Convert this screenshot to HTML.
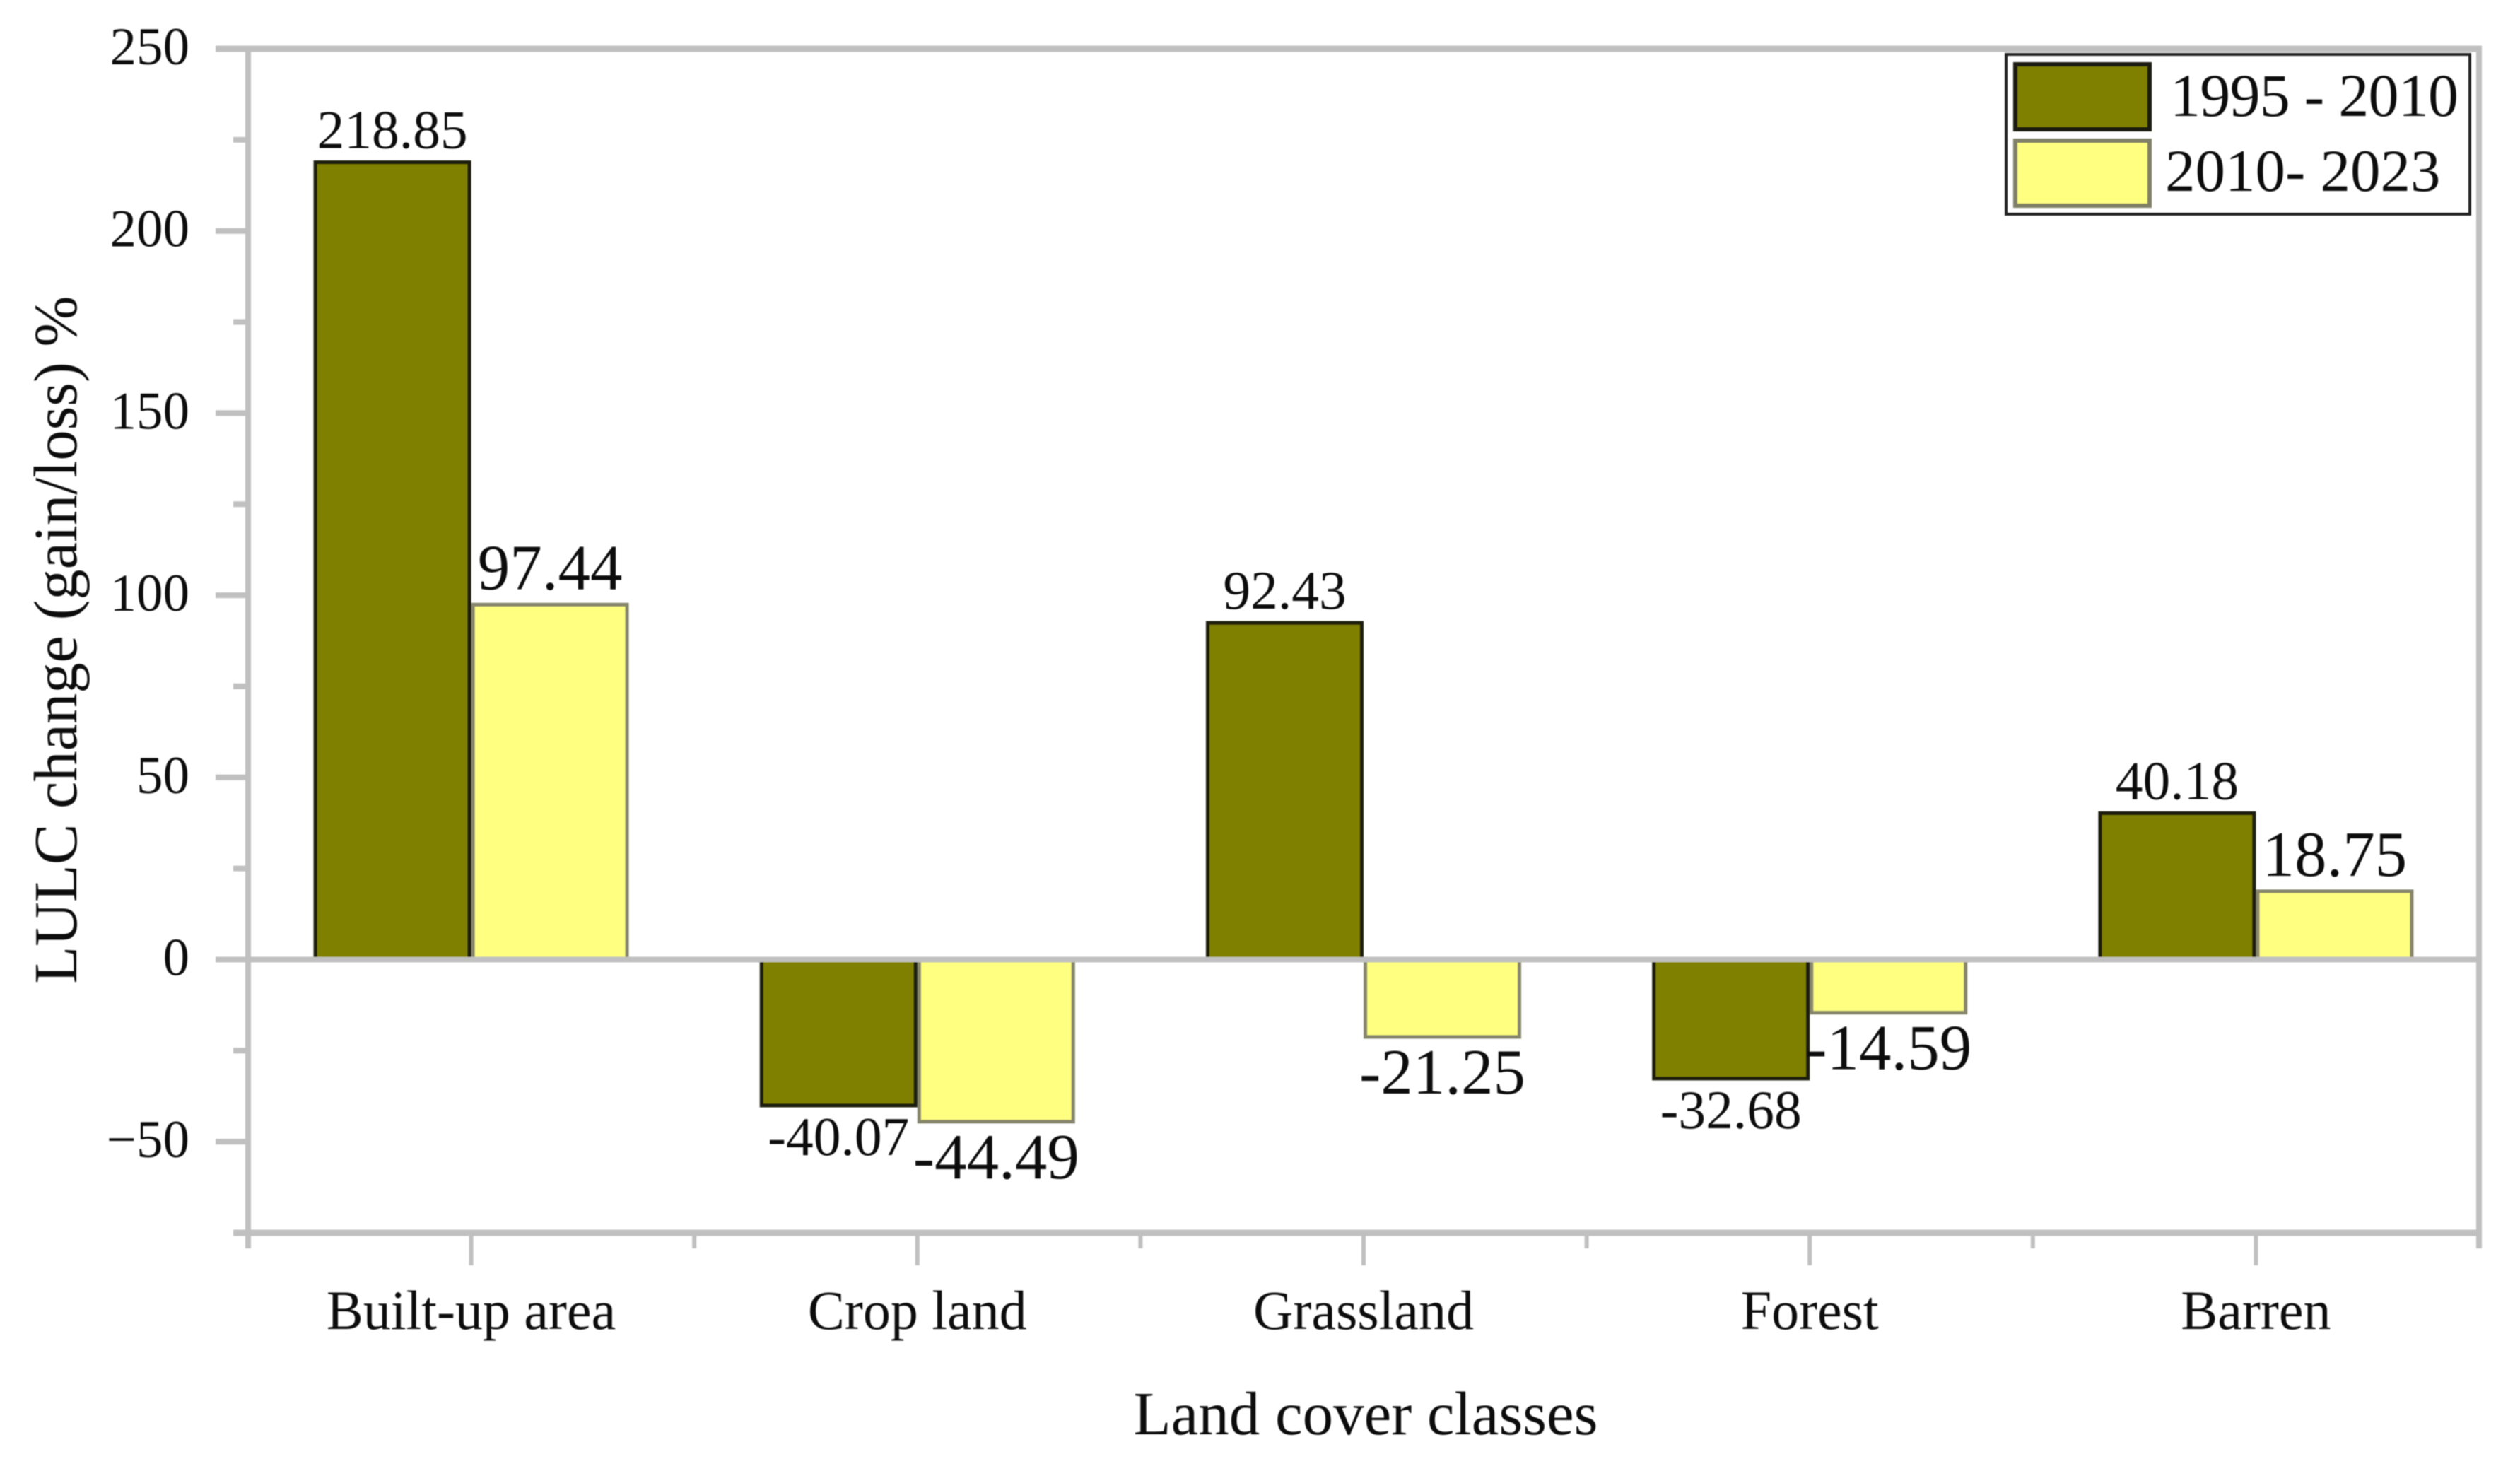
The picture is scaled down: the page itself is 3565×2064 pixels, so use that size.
<!DOCTYPE html>
<html>
<head>
<meta charset="utf-8">
<title>LULC change chart</title>
<style>
html,body{margin:0;padding:0;background:#fff;}
svg{display:block;filter:blur(0.7px);}
text{font-family:"Liberation Serif",serif;fill:#0c0c0c;}
</style>
</head>
<body>
<svg id="chart" xmlns="http://www.w3.org/2000/svg" width="3565" height="2064" viewBox="0 0 3565 2064">
  <rect x="0" y="0" width="3565" height="2064" fill="#ffffff"/>
  <g id="bars"></g>
  <g id="axes"></g>
  <g id="labels"></g>
  <text x="0" y="0" transform="translate(108,905) rotate(-90)" text-anchor="middle" font-size="86.5">LULC change (gain/loss) %</text>
  <text x="1932" y="2029" text-anchor="middle" font-size="87">Land cover classes</text>
  <g>
    <rect x="2838" y="77" width="656" height="226" fill="#ffffff" stroke="#222222" stroke-width="4"/>
    <rect x="2851" y="91" width="190" height="92" fill="#808000" stroke="#1a1a10" stroke-width="6"/>
    <text x="3070" y="164" font-size="86" textLength="408" lengthAdjust="spacing">1995 - 2010</text>
    <rect x="2851" y="199" width="190" height="92" fill="#ffff80" stroke="#808068" stroke-width="6"/>
    <text x="3063" y="270" font-size="85">2010- 2023</text>
  </g>
</svg>
<script>
const categories = ["Built-up area", "Crop land", "Grassland", "Forest", "Barren"];
const series1995 = [218.85, -40.07, 92.43, -32.68, 40.18];
const series2010 = [97.44, -44.49, -21.25, -14.59, 18.75];
const majorTicks = [250, 200, 150, 100, 50, 0, -50];
const minorTicks = [225, 175, 125, 75, 25, -25, -75];
const domainMin = -75;
const domainMax = 250;

const NS = "http://www.w3.org/2000/svg";
const plotLeft = 351, plotRight = 3507, plotTop = 69, plotBottom = 1744;
const barWidth = 223;
const AXIS = "#c0c0c0";

function yScale(v) {
  return plotTop + (domainMax - v) / (domainMax - domainMin) * (plotBottom - plotTop);
}
function bandCenter(i) {
  return plotLeft + (i + 0.5) * (plotRight - plotLeft) / categories.length;
}
function bandEdge(i) {
  return plotLeft + i * (plotRight - plotLeft) / categories.length;
}
function make(tag, attrs, parent, text) {
  const el = document.createElementNS(NS, tag);
  for (const k in attrs) el.setAttribute(k, attrs[k]);
  if (text !== undefined) el.textContent = text;
  parent.appendChild(el);
  return el;
}
function slug(s) {
  return String(s).toLowerCase().replace(/[^a-z0-9]+/g, "-");
}
function tickText(v) {
  return v < 0 ? "\u2212" + Math.abs(v) : String(v);
}

const barsG = document.getElementById("bars");
const axesG = document.getElementById("axes");
const labelsG = document.getElementById("labels");

function drawBar(value, x, fill, stroke, name) {
  const y0 = yScale(0), yv = yScale(value);
  const el = make("rect", {
    x: x + 2.5, y: Math.min(y0, yv), width: barWidth - 5,
    height: Math.abs(yv - y0), fill: fill, stroke: stroke, "stroke-width": 5
  }, barsG);
  
  
}
function drawLabel(value, cx, fontSize, name) {
  const yv = yScale(value);
  const big = fontSize > 80;
  const base = value >= 0 ? yv - (big ? 22 : 20) : yv + (big ? 80 : 70);
  const el = make("text", {
    x: cx, y: base, "text-anchor": "middle", "font-size": fontSize
  }, labelsG, value.toFixed(2));
  
  
}

categories.forEach(function (cat, i) {
  const c = bandCenter(i);
  drawBar(series1995[i], c - barWidth, "#808000", "#1c1c0c", "bar-1995-2010-" + slug(cat));
  drawBar(series2010[i], c, "#ffff80", "#86866c", "bar-2010-2023-" + slug(cat));
  drawLabel(series1995[i], c - barWidth / 2, 77.5, "value-label-1995-2010-" + slug(cat));
  drawLabel(series2010[i], c + barWidth / 2, 91, "value-label-2010-2023-" + slug(cat));
});

function axisLine(x1, y1, x2, y2, w, name) {
  const el = make("line", { x1: x1, y1: y1, x2: x2, y2: y2, stroke: AXIS, "stroke-width": w }, axesG);
  
  
}

axisLine(plotLeft, plotTop - 4, plotLeft, 1766, 8, "y-axis-line");
axisLine(plotRight, plotTop - 4, plotRight, 1766, 8, "right-axis-line");
axisLine(305, plotTop, plotRight + 4, plotTop, 9, "top-axis-line");
axisLine(330, plotBottom, plotRight + 4, plotBottom, 9, "x-axis-line");
axisLine(plotLeft, yScale(0), plotRight, yScale(0), 8, "zero-line");

majorTicks.forEach(function (v) {
  const y = yScale(v);
  axisLine(305, y, plotLeft, y, 8, "y-major-tick-" + slug(v));
  const t = make("text", { x: 268, y: y + 22, "text-anchor": "end", "font-size": 75 }, axesG, tickText(v));
  
  
});
minorTicks.forEach(function (v) {
  const y = yScale(v);
  axisLine(330, y, plotLeft, y, 8, "y-minor-tick-" + slug(v));
});
categories.forEach(function (cat, i) {
  const c = bandCenter(i);
  axisLine(c, plotBottom, c, 1790, 6, "x-major-tick-" + slug(cat));
  const t = make("text", { x: c, y: 1880, "text-anchor": "middle", "font-size": 78 }, axesG, cat);
  
  
  if (i > 0) axisLine(bandEdge(i), plotBottom, bandEdge(i), 1766, 6, "x-minor-tick-" + i);
});
</script>
</body>
</html>
